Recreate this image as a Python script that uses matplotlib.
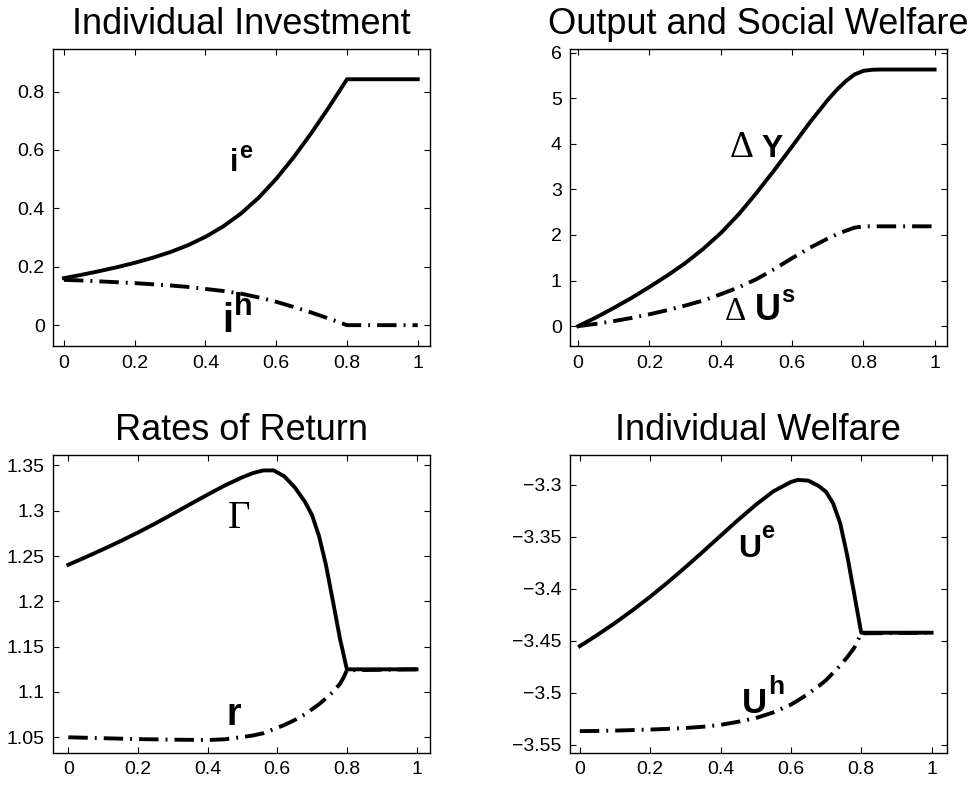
import matplotlib
matplotlib.use("Agg")
import matplotlib.pyplot as plt
from matplotlib.ticker import FuncFormatter

# ------------------------------------------------------------------
# data
# ------------------------------------------------------------------
# Individual Investment
x_inv = [0, 0.05, 0.1, 0.15, 0.2, 0.25, 0.3, 0.35, 0.4, 0.45, 0.5, 0.55, 0.6,
         0.65, 0.7, 0.75, 0.8, 1.0]
i_e = [0.161, 0.1725, 0.185, 0.1985, 0.2135, 0.2305, 0.250, 0.2735, 0.3025,
       0.338, 0.382, 0.436, 0.501, 0.576, 0.659, 0.748, 0.842, 0.842]
i_h = [0.155, 0.153, 0.150, 0.147, 0.144, 0.140, 0.136, 0.131, 0.124, 0.117,
       0.108, 0.095, 0.080, 0.062, 0.043, 0.022, 0.0, 0.0]

# Output and Social Welfare
x_out = [0, 0.05, 0.1, 0.15, 0.2, 0.25, 0.3, 0.35, 0.4, 0.45, 0.5, 0.55, 0.6,
         0.65, 0.7, 0.725, 0.75, 0.775, 0.8, 0.825, 0.85, 1.0]
d_y = [0, 0.19, 0.40, 0.62, 0.86, 1.11, 1.38, 1.69, 2.04, 2.45, 2.92, 3.42,
       3.94, 4.47, 4.96, 5.18, 5.37, 5.52, 5.60, 5.625, 5.63, 5.63]
d_us = [0, 0.05, 0.11, 0.18, 0.26, 0.35, 0.45, 0.56, 0.70, 0.85, 1.03, 1.25,
        1.49, 1.72, 1.92, 2.01, 2.09, 2.16, 2.19, 2.19, 2.19, 2.19]

# Rates of Return
x_ret = [0, 0.05, 0.1, 0.15, 0.2, 0.25, 0.3, 0.35, 0.4, 0.45, 0.5, 0.53, 0.56,
         0.59, 0.62, 0.65, 0.68, 0.7, 0.72, 0.74, 0.76, 0.78, 0.79, 0.8, 1.0]
gamma = [1.2404, 1.2488, 1.2575, 1.2665, 1.276, 1.286, 1.2965, 1.3072, 1.3178,
         1.328, 1.337, 1.3415, 1.3445, 1.3445, 1.338, 1.326, 1.3096, 1.295,
         1.272, 1.240, 1.200, 1.159, 1.142, 1.125, 1.125]
r_ret = [1.050, 1.0495, 1.049, 1.0485, 1.048, 1.0477, 1.0474, 1.0472, 1.047,
         1.0478, 1.0503, 1.052, 1.0545, 1.059, 1.0635, 1.069, 1.0755, 1.081,
         1.0865, 1.093, 1.100, 1.109, 1.1155, 1.124, 1.125]

# Individual Welfare
x_wel = [0, 0.05, 0.1, 0.15, 0.2, 0.25, 0.3, 0.35, 0.4, 0.45, 0.5, 0.55, 0.6,
         0.62, 0.65, 0.68, 0.7, 0.72, 0.74, 0.76, 0.78, 0.79, 0.8, 1.0]
u_e = [-3.4553, -3.4445, -3.433, -3.4208, -3.4078, -3.394, -3.3795, -3.3645,
       -3.3492, -3.334, -3.3195, -3.3065, -3.2975, -3.2955, -3.2962, -3.3016,
       -3.307, -3.318, -3.337, -3.368, -3.405, -3.424, -3.4424, -3.4424]
u_h = [-3.537, -3.5368, -3.5365, -3.536, -3.5355, -3.5348, -3.534, -3.5328,
       -3.531, -3.528, -3.5245, -3.519, -3.5115, -3.5075, -3.501, -3.4935,
       -3.488, -3.481, -3.474, -3.466, -3.457, -3.450, -3.443, -3.4424]

titles = ["Individual Investment", "Output and Social Welfare",
          "Rates of Return", "Individual Welfare"]
x_ticks = [0, 0.2, 0.4, 0.6, 0.8, 1]
y_ticks_1 = [0, 0.2, 0.4, 0.6, 0.8]
y_ticks_2 = [0, 1, 2, 3, 4, 5, 6]
y_ticks_3 = [1.05, 1.1, 1.15, 1.2, 1.25, 1.3, 1.35]
y_ticks_4 = [-3.55, -3.5, -3.45, -3.4, -3.35, -3.3]

# ------------------------------------------------------------------
plt.rcParams["font.family"] = ["Liberation Sans", "DejaVu Sans"]
plt.rcParams["axes.linewidth"] = 1.0

fig = plt.figure(figsize=(9.71, 7.85), dpi=100)
positions = [
    [0.0546, 0.559, 0.388, 0.378],
    [0.587, 0.559, 0.388, 0.378],
    [0.0546, 0.0408, 0.388, 0.379],
    [0.587, 0.0408, 0.388, 0.379],
]
axes = [fig.add_axes(p) for p in positions]

LW = 2.8
DASHDOT = (5.0, 1.8, 0.5, 1.8)


def fmt(v, pos):
    return ("%g" % v).replace("-", "\u2212")


def setup(ax, title, yticks, xlim, ylim):
    ax.set_title(title, fontsize=26, pad=11)
    ax.set_xlim(*xlim)
    ax.set_ylim(*ylim)
    ax.set_xticks(x_ticks)
    ax.set_yticks(yticks)
    ax.xaxis.set_major_formatter(FuncFormatter(fmt))
    ax.yaxis.set_major_formatter(FuncFormatter(fmt))
    ax.tick_params(direction="in", top=True, right=True, length=4, width=0.8,
                   labelsize=14, pad=6)


def label(ax, x, y, base, size, sup=None, sup_size=17, dy=10, serif=False):
    if serif:
        t = ax.text(x, y, base, fontsize=size, family="Liberation Serif",
                    ha="left", va="baseline")
    else:
        t = ax.text(x, y, base, fontsize=size, fontweight="bold",
                    ha="left", va="baseline")
    if sup:
        ax.annotate(sup, xy=(1.0, y), xycoords=(t, "data"), xytext=(0.5, dy),
                    textcoords="offset points", fontsize=sup_size,
                    fontweight="bold", ha="left", va="baseline")
    return t


def after(ax, t, y, s, size, gap, sup=None, sup_size=16, dy=12):
    t2 = ax.annotate(s, xy=(1.0, y), xycoords=(t, "data"), xytext=(gap, 0),
                     textcoords="offset points", fontsize=size,
                     fontweight="bold", ha="left", va="baseline")
    if sup:
        ax.annotate(sup, xy=(1.0, y), xycoords=(t2, "data"), xytext=(0.5, dy),
                    textcoords="offset points", fontsize=sup_size,
                    fontweight="bold", ha="left", va="baseline")


# panel 1
ax = axes[0]
ax.plot(x_inv, i_e, color="black", lw=LW)
ax.plot(x_inv, i_h, color="black", lw=LW, linestyle=(0, DASHDOT))
setup(ax, titles[0], y_ticks_1, (-0.031, 1.034), (-0.072, 0.944))
label(ax, 0.469, 0.527, "i", 22, "e", 17, dy=9.5)
label(ax, 0.446, -0.024, "i", 29, "h", 22, dy=12)

# panel 2
ax = axes[1]
ax.plot(x_out, d_y, color="black", lw=LW)
ax.plot(x_out, d_us, color="black", lw=LW, linestyle=(0, DASHDOT))
setup(ax, titles[1], y_ticks_2, (-0.023, 1.034), (-0.44, 6.07))
t = label(ax, 0.425, 3.72, "\u0394", 27, serif=True)
after(ax, t, 3.72, "Y", 23, 5.5)
t = label(ax, 0.411, 0.13, "\u0394", 24, serif=True)
after(ax, t, 0.13, "U", 26, 6, "s", 17, dy=13)

# panel 3
ax = axes[2]
ax.plot(x_ret, r_ret, color="black", lw=LW, linestyle=(0, DASHDOT))
ax.plot(x_ret, gamma, color="black", lw=LW)
setup(ax, titles[2], y_ticks_3, (-0.044, 1.038), (1.0327, 1.361))
label(ax, 0.459, 1.2814, "\u0393", 28, serif=True)
label(ax, 0.455, 1.0636, "r", 27)

# panel 4
ax = axes[3]
ax.plot(x_wel, u_h, color="black", lw=LW, linestyle=(0, DASHDOT))
ax.plot(x_wel, u_e, color="black", lw=LW)
setup(ax, titles[3], y_ticks_4, (-0.028, 1.043), (-3.558, -3.272))
label(ax, 0.449, -3.3698, "U", 23, "e", 17, dy=13.5)
label(ax, 0.461, -3.5196, "U", 25, "h", 19, dy=14)

fig.savefig("out.png", dpi=100)
